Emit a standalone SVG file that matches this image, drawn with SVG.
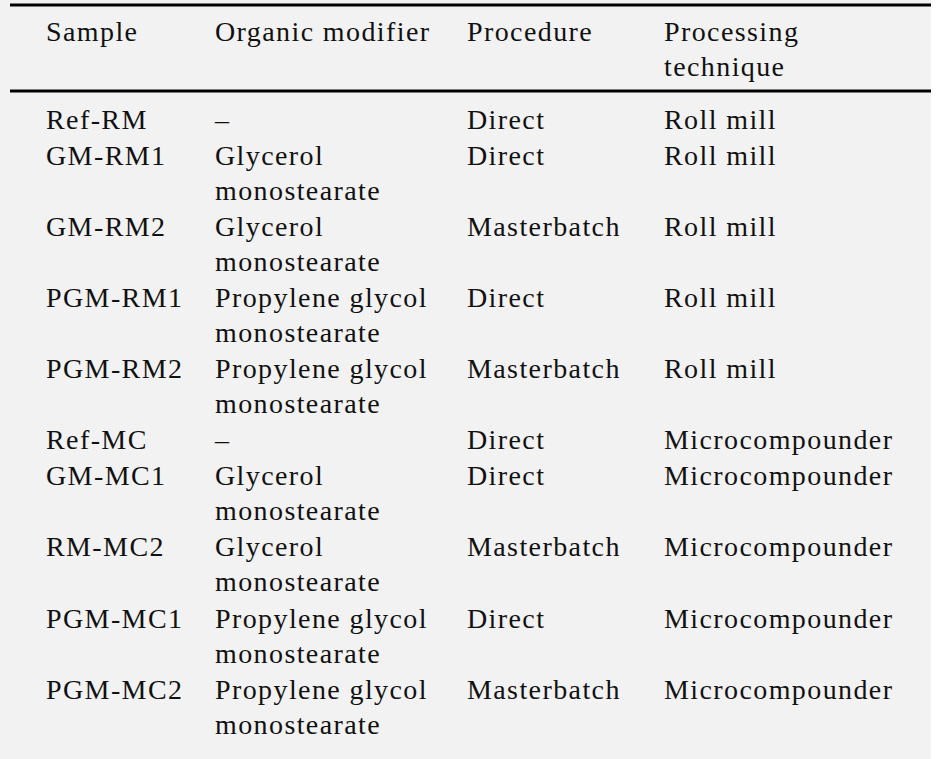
<svg xmlns="http://www.w3.org/2000/svg" width="938" height="759" viewBox="0 0 938 759">
<style>
text{font-family:"Liberation Serif",serif;font-size:28px;letter-spacing:1.4px;fill:#111}
.r{stroke:#000;stroke-width:3}
</style>
<rect x="0" y="0" width="931" height="759" fill="#f2f2f2"/>
<line class="r" x1="10" y1="5" x2="931" y2="5"/>
<line class="r" x1="10" y1="91" x2="931" y2="91"/>
<g id="header">
<text x="46" y="41">Sample</text>
<text x="215" y="41">Organic modifier</text>
<text x="467" y="41">Procedure</text>
<text x="664" y="41">Processing</text>
<text x="664" y="76">technique</text>
</g>
<g id="body">
<text x="46" y="129">Ref-RM</text><text x="215" y="129">–</text><text x="467" y="129">Direct</text><text x="664" y="129">Roll mill</text>
<text x="46" y="165">GM-RM1</text><text x="215" y="165">Glycerol</text><text x="215" y="200">monostearate</text><text x="467" y="165">Direct</text><text x="664" y="165">Roll mill</text>
<text x="46" y="236">GM-RM2</text><text x="215" y="236">Glycerol</text><text x="215" y="271">monostearate</text><text x="467" y="236">Masterbatch</text><text x="664" y="236">Roll mill</text>
<text x="46" y="307">PGM-RM1</text><text x="215" y="307">Propylene glycol</text><text x="215" y="342">monostearate</text><text x="467" y="307">Direct</text><text x="664" y="307">Roll mill</text>
<text x="46" y="378">PGM-RM2</text><text x="215" y="378">Propylene glycol</text><text x="215" y="413">monostearate</text><text x="467" y="378">Masterbatch</text><text x="664" y="378">Roll mill</text>
<text x="46" y="449">Ref-MC</text><text x="215" y="449">–</text><text x="467" y="449">Direct</text><text x="664" y="449">Microcompounder</text>
<text x="46" y="485">GM-MC1</text><text x="215" y="485">Glycerol</text><text x="215" y="520">monostearate</text><text x="467" y="485">Direct</text><text x="664" y="485">Microcompounder</text>
<text x="46" y="556">RM-MC2</text><text x="215" y="556">Glycerol</text><text x="215" y="591">monostearate</text><text x="467" y="556">Masterbatch</text><text x="664" y="556">Microcompounder</text>
<text x="46" y="628">PGM-MC1</text><text x="215" y="628">Propylene glycol</text><text x="215" y="663">monostearate</text><text x="467" y="628">Direct</text><text x="664" y="628">Microcompounder</text>
<text x="46" y="699">PGM-MC2</text><text x="215" y="699">Propylene glycol</text><text x="215" y="734">monostearate</text><text x="467" y="699">Masterbatch</text><text x="664" y="699">Microcompounder</text>
</g>
</svg>
